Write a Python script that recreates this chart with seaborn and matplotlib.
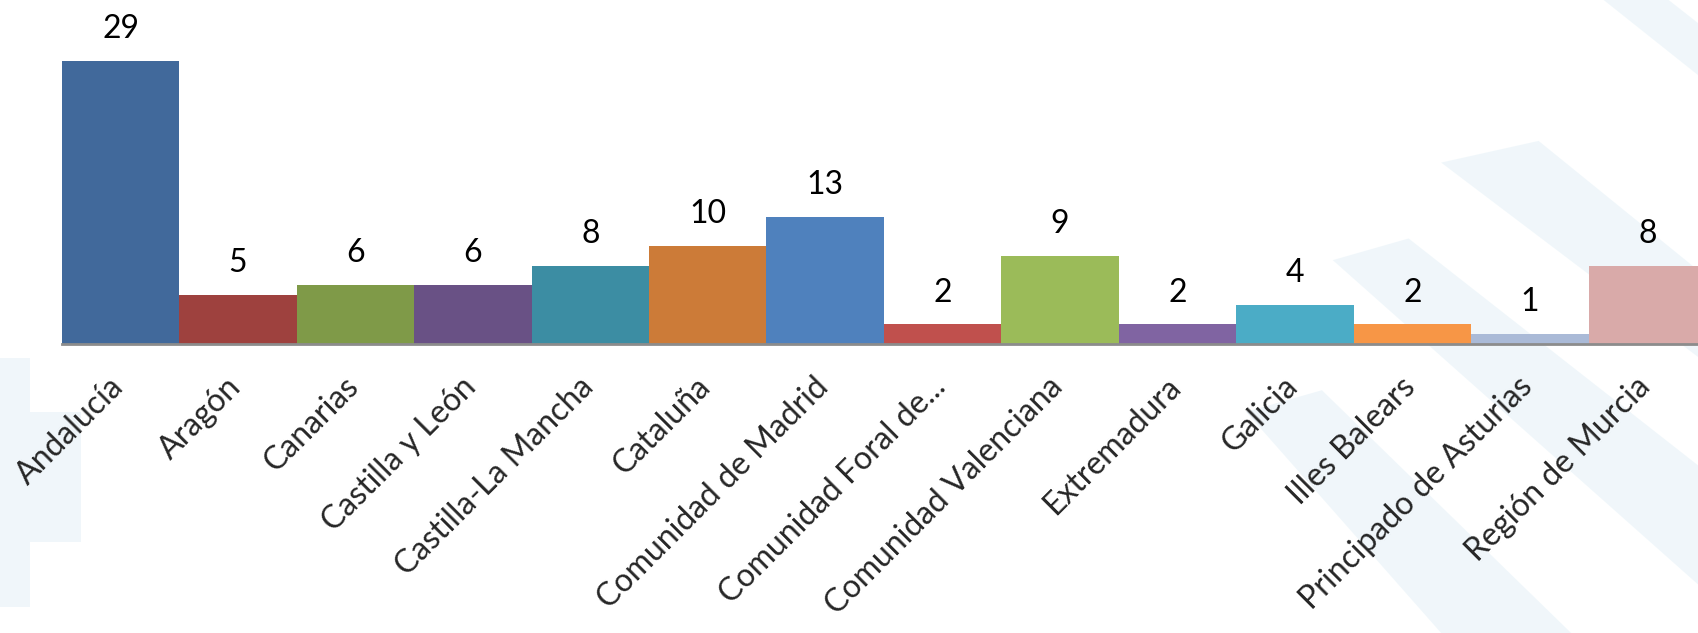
import numpy as np
import pandas as pd
import matplotlib
matplotlib.use("Agg")
import matplotlib.pyplot as plt
import matplotlib.transforms as mtransforms
import seaborn as sns
from matplotlib.patches import Polygon

# DATOS
comunidades = ['Andalucía', 'Aragón', 'Canarias', 'Castilla y León', 'Castilla-La Mancha',
               'Cataluña', 'Comunidad de Madrid', 'Comunidad Foral de...', 'Comunidad Valenciana',
               'Extremadura', 'Galicia', 'Illes Balears', 'Principado de Asturias', 'Región de Murcia']
valores = [29, 5, 6, 6, 8, 10, 13, 2, 9, 2, 4, 2, 1, 8]
colores = ['#41699B', '#9E413E', '#7F9A48', '#695185', '#3C8DA3', '#CC7B38', '#4F81BD',
           '#C0504D', '#9BBB59', '#8064A2', '#4BACC6', '#F79646', '#AABAD7', '#D9AAA9']

df = pd.DataFrame({'comunidad': comunidades, 'valor': valores})

sns.set_style('white')
plt.rcParams['font.family'] = ['Lato', 'DejaVu Sans']

fig = plt.figure(figsize=(16.99, 6.33), dpi=100)

# fondo decorativo suave (marca de agua azul), coordenadas en px de la imagen reducida
W, H = 1568, 584
fondo = [
    [(1480, 0), (1540, 0), (1568, 22), (1568, 70)],
    [(1230, 240), (1300, 220), (1568, 430), (1568, 540)],
    [(1330, 150), (1420, 130), (1568, 250), (1568, 330)],
    [(1150, 380), (1220, 360), (1450, 584), (1330, 584)],
    [(0, 330), (28, 330), (28, 560), (0, 560)],
    [(28, 380), (75, 380), (75, 500), (28, 500)],
]
for pts in fondo:
    pts_fig = [(x / W, 1 - y / H) for x, y in pts]
    fig.patches.append(Polygon(pts_fig, closed=True, transform=fig.transFigure,
                               facecolor='#D4E8F3', alpha=0.35, edgecolor='none', zorder=-5))

ax = fig.add_axes([61.8 / 1699, 0.457, 1 - 61.8 / 1699, 0.4936])
ax.patch.set_alpha(0)

sns.barplot(data=df, x='comunidad', y='valor', hue='comunidad', palette=colores,
            width=1.0, legend=False, saturation=1, linewidth=0, ax=ax)

ax.set_xlim(-0.5, 13.44)
ax.set_ylim(0, 32)

# etiquetas de valor
for i, v in enumerate(valores):
    ax.annotate(str(v), (i, v), xytext=(0, 12), textcoords='offset points',
                ha='center', va='bottom', fontsize=23, color='black')

ax.set_xlabel('')
ax.set_ylabel('')
ax.set_yticks([])
ax.tick_params(axis='x', length=0, pad=20)
desplaz = mtransforms.ScaledTranslation(9 / 100, 0, fig.dpi_scale_trans)
for lab in ax.get_xticklabels():
    lab.set_rotation(45)
    lab.set_ha('right')
    lab.set_va('top')
    lab.set_fontsize(23)
    lab.set_transform(lab.get_transform() + desplaz)

for s in ['top', 'left', 'right']:
    ax.spines[s].set_visible(False)
ax.spines['bottom'].set_color('#8C8C8C')
ax.spines['bottom'].set_linewidth(2)

fig.savefig('out.png', dpi=100)
